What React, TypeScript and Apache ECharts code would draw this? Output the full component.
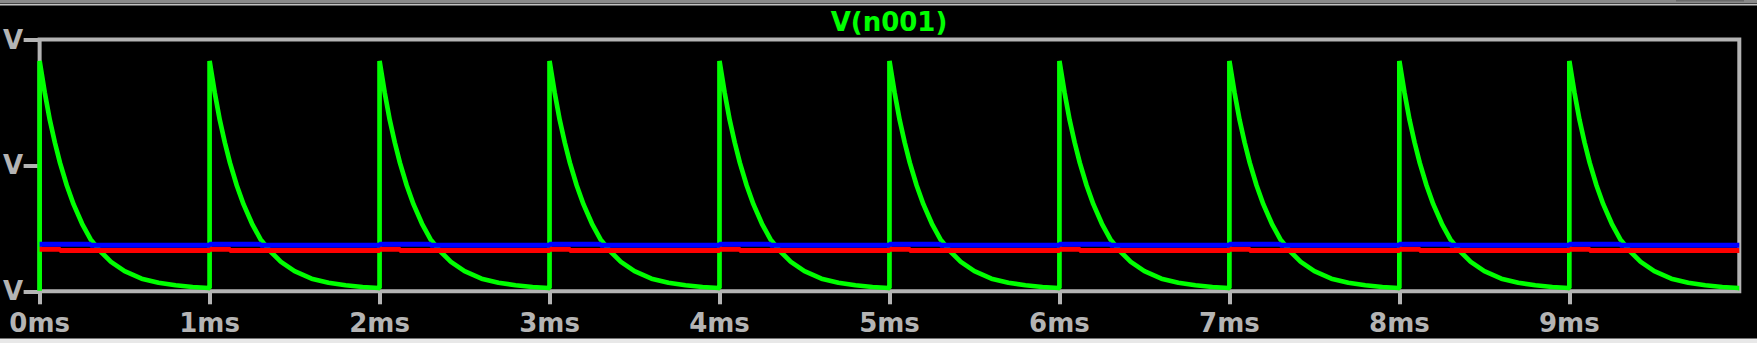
import React, { useEffect, useRef } from "react";
import * as echarts from "echarts";

// ---- data ----
const titleText = "V(n001)";
const xTickValues = [0, 1, 2, 3, 4, 5, 6, 7, 8, 9];
const xTickLabels = ["0ms", "1ms", "2ms", "3ms", "4ms", "5ms", "6ms", "7ms", "8ms", "9ms"];
const yTickLabels = ["V", "V", "V"]; // labels at 0, 0.5, 1 (left parts are cut off in the reference)

// start time of each pulse (ms)
const pulseStartsMs = [0, 1, 2, 3, 4, 5, 6, 7, 8, 9];
const endMs = 10;

// green trace: one decay period, offset (ms) after a pulse and normalised level
const greenDecayOffsetMs = [0, 0.03, 0.06, 0.09, 0.12, 0.16, 0.2, 0.25, 0.3, 0.36, 0.42, 0.5, 0.6, 0.7, 0.8, 0.9, 0.995];
const greenDecayLevel = [0.915, 0.79, 0.68, 0.59, 0.51, 0.42, 0.345, 0.268, 0.206, 0.157, 0.117, 0.08, 0.05, 0.034, 0.024, 0.017, 0.013];
const greenStartLevel = 0.002;
const greenEndLevel = 0.013;

// blue trace: level steps within each period
const blueStepOffsetMs = [0, 0.3];
const blueStepLevel = [0.187, 0.183];
// red trace: level steps within each period
const redStepOffsetMs = [0, 0.12];
const redStepLevel = [0.167, 0.162];

const GRAY = "#b4b4b4";
const FONT = "DejaVu Sans";

function buildGreen(): number[][] {
  const pts: number[][] = [];
  pulseStartsMs.forEach((k, idx) => {
    pts.push([k, idx === 0 ? greenStartLevel : greenEndLevel]);
    greenDecayOffsetMs.forEach((o, i) => pts.push([k + o, greenDecayLevel[i]]));
  });
  pts.push([endMs, greenEndLevel]);
  return pts;
}

function buildSteps(offsets: number[], levels: number[]): number[][] {
  const pts: number[][] = [];
  pulseStartsMs.forEach((k) => {
    offsets.forEach((o, i) => pts.push([k + o, levels[i]]));
  });
  pts.push([endMs, levels[levels.length - 1]]);
  return pts;
}

export default function App() {
  const ref = useRef<HTMLDivElement>(null);
  useEffect(() => {
    if (!ref.current) return;
    const chart = echarts.init(ref.current, null, { renderer: "svg" });
    const option: any = {
      animation: false,
      backgroundColor: "#000000",
      grid: {
        left: 38.5,
        right: 17.7,
        top: 39.5,
        bottom: 51.7,
        show: true,
        borderColor: GRAY,
        borderWidth: 4,
        backgroundColor: "transparent",
      },
      xAxis: {
        type: "value",
        min: 0,
        max: endMs,
        interval: 1,
        splitLine: { show: false },
        axisLine: { show: false },
        axisTick: {
          show: true,
          length: 13,
          customValues: xTickValues,
          lineStyle: { color: GRAY, width: 4 },
        },
        axisLabel: {
          customValues: xTickValues,
          formatter: (v: number) => xTickLabels[Math.round(v)] ?? "",
          color: GRAY,
          fontFamily: FONT,
          fontWeight: "bold",
          fontSize: 26,
          margin: 19,
        },
      },
      yAxis: {
        type: "value",
        min: 0,
        max: 1,
        interval: 0.5,
        splitLine: { show: false },
        axisLine: { show: false },
        axisTick: { show: true, length: 16, lineStyle: { color: GRAY, width: 4 } },
        axisLabel: {
          formatter: (v: number) => yTickLabels[Math.round(v * 2)] ?? "",
          color: GRAY,
          fontFamily: FONT,
          fontWeight: "bold",
          fontSize: 26,
          margin: 16.5,
        },
      },
      graphic: [
        { type: "rect", shape: { x: 0, y: 0, width: 1757, height: 3.5 }, style: { fill: "#8a8a8a" } },
        { type: "rect", shape: { x: 1676, y: 0, width: 68, height: 1.5 }, style: { fill: "#6a6a6a" } },
        { type: "rect", shape: { x: 0, y: 4, width: 1757, height: 1.5 }, style: { fill: "#c4c4c4" } },
        { type: "rect", shape: { x: 0, y: 338.5, width: 1757, height: 4.5 }, style: { fill: "#e8e8e8" } },
        {
          type: "text",
          x: 889,
          y: 22,
          style: {
            text: titleText,
            fill: "#00ff00",
            font: `bold 26px "${FONT}"`,
            align: "center",
            verticalAlign: "middle",
          },
        },
      ],
      series: [
        {
          type: "line",
          data: buildGreen(),
          showSymbol: false,
          symbol: "none",
          lineStyle: { color: "#00ff00", width: 4.7 },
          z: 2,
        },
        {
          type: "line",
          data: buildSteps(redStepOffsetMs, redStepLevel),
          step: "end",
          showSymbol: false,
          symbol: "none",
          lineStyle: { color: "#ff0000", width: 5 },
          z: 3,
        },
        {
          type: "line",
          data: buildSteps(blueStepOffsetMs, blueStepLevel),
          step: "end",
          showSymbol: false,
          symbol: "none",
          lineStyle: { color: "#0000ff", width: 5 },
          z: 4,
        },
      ],
    };
    chart.setOption(option);
    return () => chart.dispose();
  }, []);
  return (
    <div
      ref={ref}
      style={{ position: "absolute", left: 0, top: 0, width: 1757, height: 343, background: "#000" }}
    />
  );
}
